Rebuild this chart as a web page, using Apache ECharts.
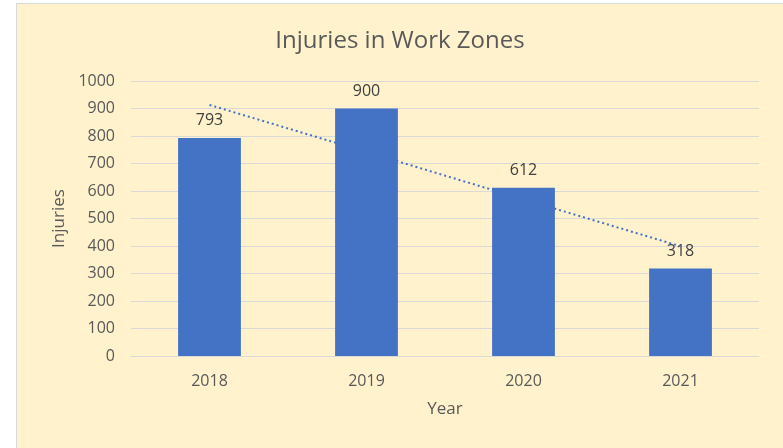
<!DOCTYPE html>
<html>
<head>
<meta charset="utf-8">
<script src="https://cdn.jsdelivr.net/npm/echarts@6/dist/echarts.min.js"></script>
<style>
  html, body { margin: 0; padding: 0; background: #fff; }
  #chart {
    position: absolute;
    left: 16px;
    top: 3px;
    width: 766px;
    height: 445px;
    background: #fff2cc;
    border-left: 1px solid #d9d9d9;
    border-top: 1px solid #d9d9d9;
  }
</style>
</head>
<body>
<div id="chart"></div>
<script>
const years = ["2018", "2019", "2020", "2021"];
const injuries = [793, 900, 612, 318];
// linear trendline as it appears on the picture
const trend = [913, 742, 570, 399];

const textColor = "#595959";
const font = "'Open Sans', 'Noto Sans', sans-serif";

let myChart = echarts.init(document.getElementById("chart"));
myChart.setOption({
  animation: false,
  title: {
    text: "Injuries in Work Zones",
    left: "center",
    top: 20,
    textStyle: {
      color: textColor,
      fontFamily: font,
      fontSize: 24,
      fontWeight: "normal",
    },
  },
  grid: {
    left: 114,
    right: 24,
    top: 77,
    bottom: 93,
  },
  xAxis: {
    type: "category",
    data: years,
    name: "Year",
    nameLocation: "middle",
    nameGap: 45,
    nameTextStyle: { color: textColor, fontFamily: font, fontSize: 17 },
    axisTick: { show: false },
    axisLine: { lineStyle: { color: "#d9d9d9", width: 1 } },
    axisLabel: { color: textColor, fontFamily: font, fontSize: 16, margin: 17 },
  },
  yAxis: {
    type: "value",
    min: 0,
    max: 1000,
    interval: 100,
    name: "Injuries",
    nameLocation: "middle",
    nameGap: 62,
    nameTextStyle: { color: textColor, fontFamily: font, fontSize: 17 },
    axisLine: { show: false },
    axisTick: { show: false },
    axisLabel: {
      color: textColor,
      fontFamily: font,
      fontSize: 16,
      margin: 16,
      formatter: (v) => String(v),
    },
    splitLine: { lineStyle: { color: "#d9d9d9", width: 1 } },
  },
  series: [
    {
      name: "Injuries",
      type: "bar",
      data: injuries,
      barWidth: "40%",
      itemStyle: { color: "#4472c4" },
      label: {
        show: true,
        position: "top",
        distance: 9,
        color: "#404040",
        fontFamily: font,
        fontSize: 16,
      },
    },
    {
      name: "Trend",
      type: "line",
      data: trend,
      symbol: "none",
      z: 3,
      lineStyle: { color: "#4472c4", width: 2, type: [2, 3] },
    },
  ],
});
</script>
</body>
</html>
